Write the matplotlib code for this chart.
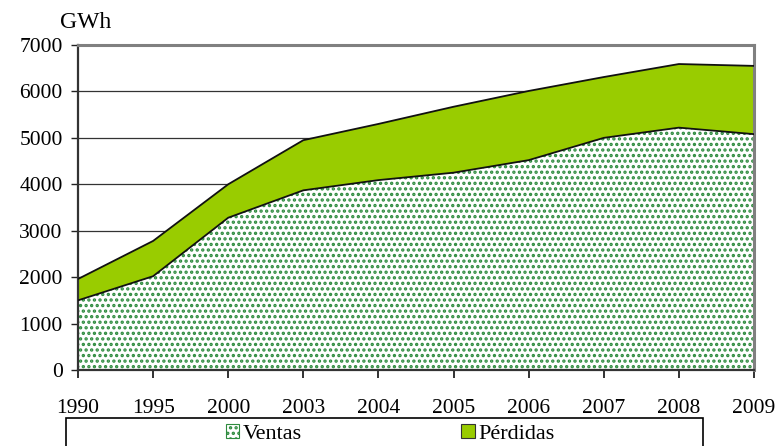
import matplotlib
matplotlib.use("Agg")
import matplotlib.pyplot as plt
from matplotlib.patches import Patch, Rectangle
import numpy as np

years = ["1990", "1995", "2000", "2003", "2004", "2005", "2006", "2007", "2008", "2009"]
ventas = [1500, 2020, 3280, 3870, 4090, 4250, 4520, 5000, 5220, 5080]
total = [1960, 2780, 4000, 4950, 5300, 5670, 6010, 6310, 6590, 6550]
yticks = [0, 1000, 2000, 3000, 4000, 5000, 6000, 7000]

plt.rcParams['font.family'] = ['Liberation Serif', 'DejaVu Serif']
plt.rcParams['hatch.linewidth'] = 1.6

fig = plt.figure(figsize=(7.77, 4.46), dpi=100)
ax = fig.add_axes([78/777, 1-370/446, (754-78)/777, (370-45)/446])

x = np.arange(len(years))
green_dot = '#2e8b3e'
lime = '#99CC00'

ax.fill_between(x, 0, ventas, facecolor='white', edgecolor=green_dot, hatch='...', linewidth=0, zorder=2)
ax.fill_between(x, ventas, total, facecolor=lime, edgecolor='none', linewidth=0, zorder=2)
ax.plot(x, ventas, color='#111111', lw=1.3, zorder=3)
ax.plot(x, total, color='#111111', lw=1.3, zorder=3)

ax.set_xlim(0, len(years)-1)
ax.set_ylim(0, 7000)
ax.set_yticks(yticks)
ax.set_yticklabels([str(v) for v in yticks], fontsize=15.5)
ax.set_xticks(x)
ax.set_xticklabels(years, fontsize=15.5)
ax.tick_params(axis='x', direction='inout', length=12, width=1.3, pad=15, colors='#222222', labelcolor='black')
ax.tick_params(axis='y', direction='out', length=5, width=1.0, pad=6, colors='#222222', labelcolor='black')

for v in yticks[1:-1]:
    ax.axhline(v, color='#333333', lw=0.9, zorder=1)

ax.spines['top'].set_color('#808080')
ax.spines['top'].set_linewidth(2.2)
ax.spines['right'].set_color('#808080')
ax.spines['right'].set_linewidth(2.2)
ax.spines['left'].set_color('#333333')
ax.spines['left'].set_linewidth(1.6)
ax.spines['bottom'].set_color('#333333')
ax.spines['bottom'].set_linewidth(1.6)
ax.spines['bottom'].set_zorder(4)

fig.text(60/777, 1-22/446, "GWh", fontsize=17, ha='left', va='center')

# legend frame
fig.patches.append(Rectangle((66/777, -0.02), (703-66)/777, 0.02 + (446-418)/446,
                             transform=fig.transFigure, facecolor='white',
                             edgecolor='black', linewidth=1.2, zorder=0))

handles = [Patch(facecolor='white', edgecolor=green_dot, hatch='...', linewidth=0.8),
           Patch(facecolor=lime, edgecolor='#333333', linewidth=0.8)]
leg = fig.legend(handles, ["Ventas", "Pérdidas"], ncol=2, loc='center',
                 bbox_to_anchor=(390/777, 1-434/446),
                 fontsize=16, frameon=False, borderaxespad=0,
                 handlelength=0.6, handleheight=0.6, handletextpad=0.15,
                 columnspacing=7.2, borderpad=0)

fig.savefig("out.png", dpi=100)
